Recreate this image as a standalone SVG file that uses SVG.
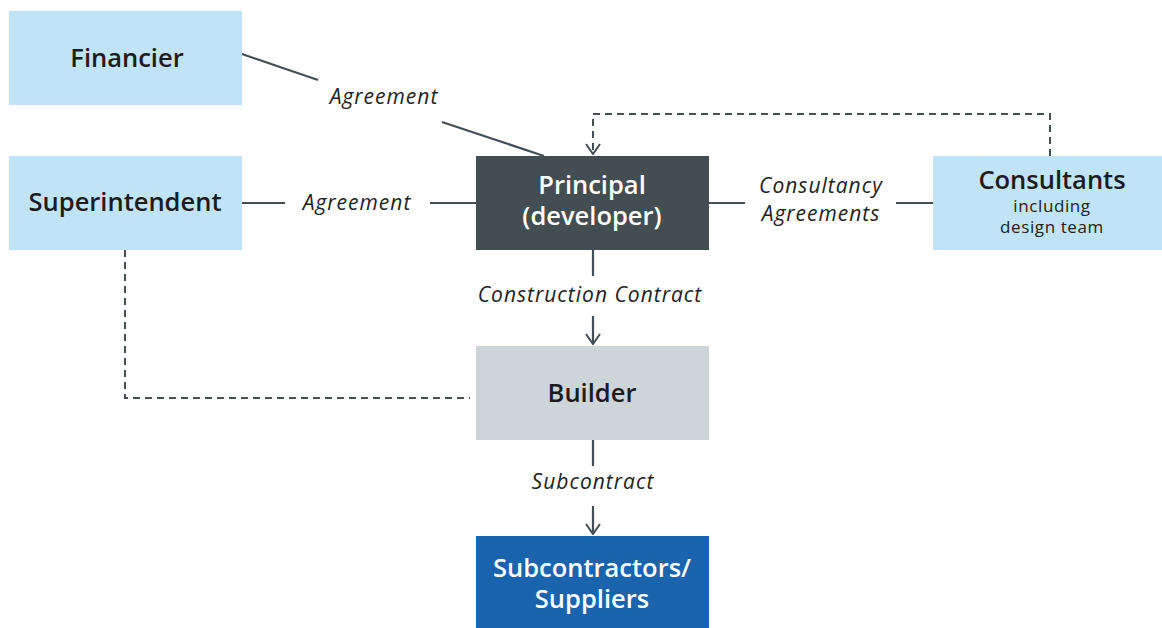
<svg xmlns="http://www.w3.org/2000/svg" width="1162" height="628" viewBox="0 0 1162 628">
<defs>
<marker id="arr" markerWidth="12" markerHeight="16" refX="11" refY="8" orient="auto" markerUnits="userSpaceOnUse" viewBox="0 0 12 16">
<path d="M1,1 L11,8 L1,15" fill="none" stroke="#444f55" stroke-width="2"/>
</marker>
</defs>
<style>
.node-t{font-family:"Open Sans","Liberation Sans",sans-serif;font-weight:600;font-size:25.5px;text-anchor:middle;fill:#1c1c1c}
.lbl{font-family:"Open Sans","Liberation Sans",sans-serif;font-style:italic;font-size:21px;letter-spacing:1px;text-anchor:middle;fill:#222}
.sub{font-family:"Open Sans","Liberation Sans",sans-serif;font-size:17px;letter-spacing:0.6px;text-anchor:middle;fill:#222}
.ln{stroke:#444f55;stroke-width:2.2;fill:none}
.dash{stroke:#444f55;stroke-width:2;fill:none;stroke-dasharray:7,5}
.lb{fill:#c0e3f5}
.w{fill:#ffffff}
</style>
<rect width="1162" height="628" fill="#ffffff"/>
<g id="connectors">
<line class="ln" x1="242" y1="54" x2="318" y2="80"/>
<line class="ln" x1="442" y1="122" x2="544" y2="156"/>
<line class="ln" x1="242" y1="203" x2="285" y2="203"/>
<line class="ln" x1="430" y1="203" x2="476" y2="203"/>
<line class="ln" x1="709" y1="203" x2="745" y2="203"/>
<line class="ln" x1="896" y1="203" x2="933" y2="203"/>
<line class="ln" x1="593" y1="250" x2="593" y2="276"/>
<line class="ln" x1="593" y1="316" x2="593" y2="344" marker-end="url(#arr)"/>
<line class="ln" x1="593" y1="440" x2="593" y2="466"/>
<line class="ln" x1="593" y1="506" x2="593" y2="534" marker-end="url(#arr)"/>
<path class="dash" d="M1050,156 V114 H593 V154" marker-end="url(#arr)"/>
<path class="dash" d="M125,250 V398 H470"/>
<text class="lbl" x="384" y="104">Agreement</text>
<text class="lbl" x="357" y="210">Agreement</text>
<text class="lbl" x="821" y="193">Consultancy</text>
<text class="lbl" x="821" y="221">Agreements</text>
<text class="lbl" x="590" y="302">Construction Contract</text>
<text class="lbl" x="593" y="489">Subcontract</text>
</g>
<g id="financier">
<rect class="lb" x="9" y="11" width="233" height="94"/>
<text class="node-t" x="127" y="67">Financier</text>
</g>
<g id="superintendent">
<rect class="lb" x="9" y="156" width="233" height="94"/>
<text class="node-t" x="125" y="211">Superintendent</text>
</g>
<g id="principal">
<rect x="476" y="156" width="233" height="94" fill="#434e53"/>
<text class="node-t w" x="592" y="194">Principal</text>
<text class="node-t w" x="592" y="225">(developer)</text>
</g>
<g id="consultants">
<rect class="lb" x="933" y="156" width="229" height="94"/>
<text class="node-t" x="1052" y="189">Consultants</text>
<text class="sub" x="1052" y="212">including</text>
<text class="sub" x="1052" y="233">design team</text>
</g>
<g id="builder">
<rect x="476" y="346" width="233" height="94" fill="#cdd5d8"/>
<text class="node-t" x="592" y="402">Builder</text>
</g>
<g id="subcontractors">
<rect x="476" y="536" width="233" height="92" fill="#1a64ae"/>
<text class="node-t w" x="592" y="577">Subcontractors/</text>
<text class="node-t w" x="592" y="608">Suppliers</text>
</g>
</svg>
